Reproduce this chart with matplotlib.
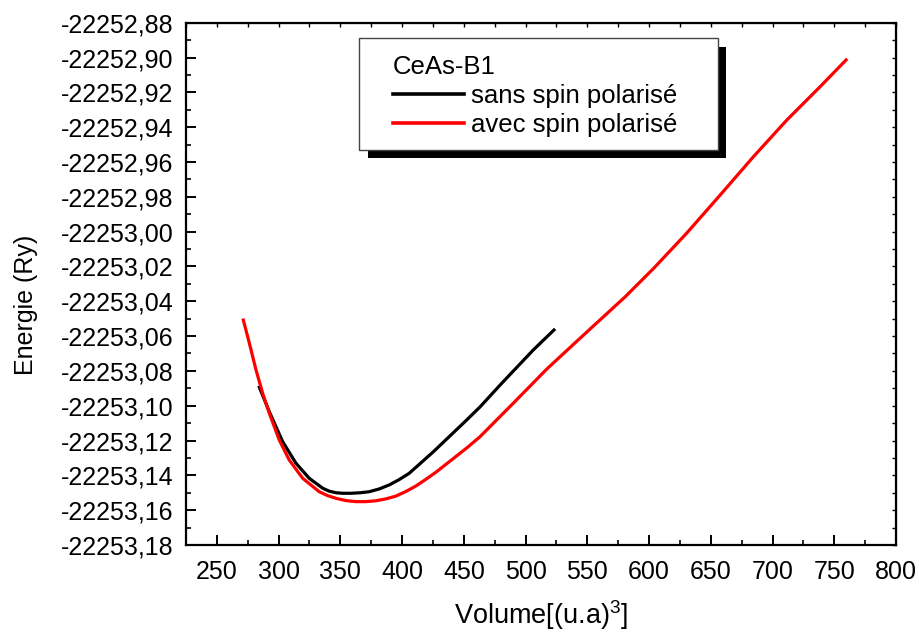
import matplotlib
matplotlib.use('Agg')
import matplotlib.pyplot as plt
from matplotlib.ticker import MultipleLocator, FuncFormatter
from matplotlib.patches import Rectangle

plt.rcParams['font.family'] = ['Liberation Sans', 'DejaVu Sans']
plt.rcParams['mathtext.default'] = 'regular'

# valeurs
vol_sans = [284.4, 292.4, 303.3, 314.1, 324.8, 335.7, 341.0, 346.5, 352.0, 358.6,
            366.0, 373.4, 381.5, 389.6, 397.5, 405.8, 425.4, 452.3, 463.1, 479.4,
            506.2, 523.0]
e_sans = [-22253.0894, -22253.1034, -22253.1207, -22253.1331, -22253.1417, -22253.1474,
          -22253.1491, -22253.1500, -22253.1503, -22253.1503, -22253.1500, -22253.1494,
          -22253.1478, -22253.1455, -22253.1425, -22253.1388, -22253.1264, -22253.1082,
          -22253.1007, -22253.0881, -22253.0680, -22253.0565]

vol_avec = [271.4, 276.3, 281.7, 287.1, 292.5, 300.5, 308.6, 319.5, 332.9, 339.5,
            346.5, 354.5, 362.6, 370.5, 378.8, 387.0, 395.0, 403.0, 411.2, 419.0,
            427.4, 452.3, 463.1, 490.0, 517.1, 544.2, 580.6, 603.6, 630.6, 657.6,
            684.5, 711.6, 738.5, 759.6]
e_avec = [-22253.0508, -22253.0641, -22253.0795, -22253.0929, -22253.1044, -22253.1197,
          -22253.1312, -22253.1417, -22253.1494, -22253.1516, -22253.1532, -22253.1545,
          -22253.1551, -22253.1551, -22253.1546, -22253.1535, -22253.1519, -22253.1493,
          -22253.1461, -22253.1424, -22253.1382, -22253.1243, -22253.1178, -22253.0986,
          -22253.0790, -22253.0612, -22253.0375, -22253.0212, -22253.0008, -22252.9790,
          -22252.9570, -22252.9359, -22252.9168, -22252.9014]

fig = plt.figure(figsize=(9.2, 6.34), dpi=100)
ax = fig.add_axes([0.2022, 0.1404, 0.7717, 0.8238])

ax.plot(vol_sans, e_sans, color='black', linewidth=2.3, label='sans spin polarisé',
        solid_joinstyle='round')
ax.plot(vol_avec, e_avec, color='red', linewidth=2.3, label='avec spin polarisé',
        solid_joinstyle='round')

ax.set_xlim(225, 800)
ax.set_ylim(-22253.18, -22252.88)

ax.xaxis.set_major_locator(MultipleLocator(50))
ax.xaxis.set_minor_locator(MultipleLocator(25))
ax.yaxis.set_major_locator(MultipleLocator(0.02))
ax.yaxis.set_minor_locator(MultipleLocator(0.01))
ax.yaxis.set_major_formatter(FuncFormatter(lambda v, p: ('%.2f' % v).replace('.', ',')))

for s in ax.spines.values():
    s.set_linewidth(1.6)

ax.tick_params(which='major', direction='in', length=7, width=1.4, labelsize=18)
ax.tick_params(axis='y', which='major', pad=9)
ax.tick_params(axis='x', which='major', pad=11)
ax.tick_params(which='minor', direction='in', length=3.5, width=1.2)

# petites graduations en haut et a droite
top = ax.secondary_xaxis('top')
top.xaxis.set_major_locator(MultipleLocator(25))
top.tick_params(direction='in', length=3, width=1.0, labeltop=False)
right = ax.secondary_yaxis('right')
right.yaxis.set_major_locator(MultipleLocator(0.01))
right.tick_params(direction='in', length=3, width=1.0, labelright=False)

ax.set_xlabel('Volume[(u.a)$^3$]', fontsize=19.5, labelpad=10)
ax.set_ylabel('Energie (Ry)', fontsize=18)
ax.yaxis.set_label_coords(-0.2085, 0.4595)

# legende sans cadre, cadre et ombre dessines a part
leg = ax.legend(title='CeAs-B1', loc='upper left', bbox_to_anchor=(0.2915, 0.9383),
                borderaxespad=0, borderpad=0, fontsize=18.5, title_fontsize=18.5,
                alignment='left', frameon=False, handlelength=2.75,
                handletextpad=0.3, labelspacing=0.2)
for line in leg.get_lines():
    line.set_linewidth(2.6)

box = (0.2437, 0.7563, 0.7493 - 0.2437, 0.9707 - 0.7563)
ax.add_patch(Rectangle((box[0] + 8.5 / 710, box[1] - 8.5 / 522.3), box[2], box[3],
                       transform=ax.transAxes, facecolor='black', edgecolor='none',
                       zorder=4.8, clip_on=False))
ax.add_patch(Rectangle((box[0], box[1]), box[2], box[3], transform=ax.transAxes,
                       facecolor='white', edgecolor='#444444', linewidth=1.0,
                       zorder=4.9, clip_on=False))

fig.savefig('out.png', dpi=100)
